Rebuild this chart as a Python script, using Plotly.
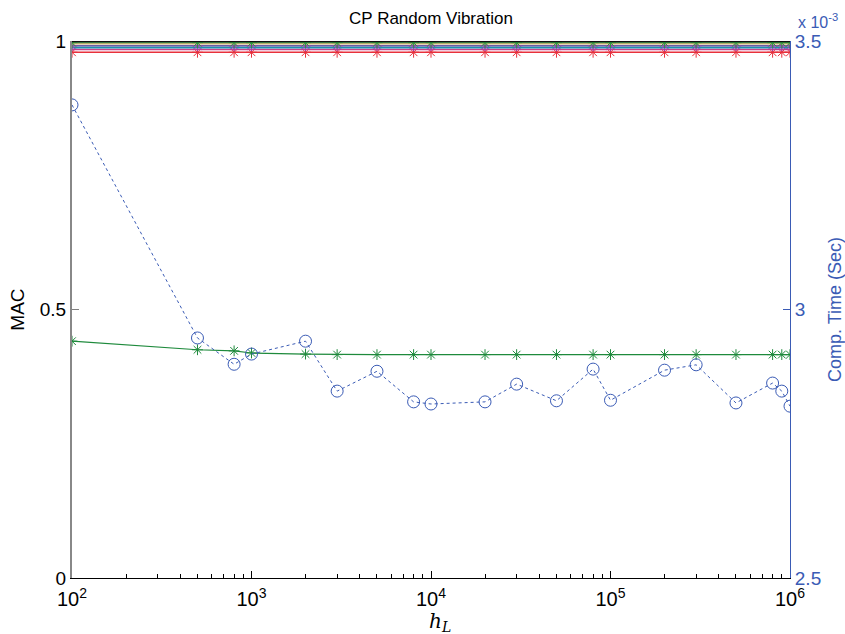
import plotly.graph_objects as go

h_L = [100, 500, 800, 1000, 2000, 3000, 5000, 8000, 10000, 20000, 30000,
       50000, 80000, 100000, 200000, 300000, 500000, 800000, 900000, 1000000]

n = len(h_L)
mac_black = [0.999] * n
mac_green_top = [0.997] * n
mac_yellow = [0.995] * n
mac_blue = [0.991] * n
mac_cyan = [0.988] * n
mac_magenta = [0.984] * n
mac_red = [0.979] * n

mac_low = [0.441, 0.425, 0.423, 0.419, 0.417, 0.416, 0.416, 0.416, 0.416, 0.416,
           0.416, 0.416, 0.416, 0.416, 0.416, 0.416, 0.416, 0.416, 0.416, 0.416]

comp_time = [3.381, 2.947, 2.898, 2.917, 2.941, 2.848, 2.885, 2.828, 2.824, 2.828,
             2.861, 2.830, 2.889, 2.831, 2.887, 2.897, 2.826, 2.863, 2.848, 2.820]
comp_time = [v * 1e-3 for v in comp_time]

xtick_vals = [100, 1000, 10000, 100000, 1000000]
xtick_text = ["10<sup>2</sup>", "10<sup>3</sup>", "10<sup>4</sup>", "10<sup>5</sup>", "10<sup>6</sup>"]
xminor_vals = [m * d for d in (100, 1000, 10000, 100000) for m in range(2, 10)]

FONT = "Liberation Sans, Arial, sans-serif"
BLUE = "#3a5bb5"

fig = go.Figure()

def mline(y, color, width=1.2, marker=None, mcolor=None):
    kw = dict(x=h_L, y=y, mode="lines", line=dict(color=color, width=width),
              showlegend=False, hoverinfo="skip")
    if marker:
        kw["mode"] = "lines+markers"
        kw["marker"] = dict(symbol=marker, size=9, color=mcolor or color,
                            line=dict(color=mcolor or color, width=1))
    fig.add_trace(go.Scatter(**kw))

mline(mac_red, "#e8303c", 1.5, "asterisk-open", "#e8303c")
mline(mac_magenta, "#c8408a", 1.5)
mline(mac_cyan, "#1e8fb0", 2)
mline(mac_blue, "#6a5aa8", 1.5, "asterisk-open", "#9a40b0")
mline(mac_yellow, "#c8b070", 1.5)
mline(mac_green_top, "#2a8a40", 1, "asterisk-open", "#2a9a40")
mline(mac_black, "#111111", 1.5)

fig.add_trace(go.Scatter(x=h_L, y=mac_low, mode="lines+markers",
                         line=dict(color="#1e8a3c", width=1.2),
                         marker=dict(symbol="asterisk-open", size=9, color="#1e8a3c",
                                     line=dict(color="#1e8a3c", width=1)),
                         showlegend=False, hoverinfo="skip"))

fig.add_trace(go.Scatter(x=h_L, y=comp_time, yaxis="y2", mode="lines+markers",
                         line=dict(color=BLUE, width=1, dash="dot"),
                         marker=dict(symbol="circle-open", size=12, color=BLUE,
                                     line=dict(color=BLUE, width=1)),
                         showlegend=False, hoverinfo="skip"))

fig.update_layout(
    width=845, height=634,
    margin=dict(l=72, r=55, t=41, b=56),
    paper_bgcolor="white", plot_bgcolor="white",
    font=dict(family=FONT, size=17, color="black"),
    title=dict(text="CP Random Vibration", x=0.5, xref="paper", y=0.972, yref="container",
               xanchor="center", yanchor="middle", font=dict(size=17, family=FONT)),
    xaxis=dict(type="log", range=[2, 6], tickmode="array", tickvals=xtick_vals, ticktext=xtick_text,
               ticks="inside", ticklen=7, tickcolor="black", showgrid=False, automargin=False,
               zeroline=False, showline=True, linecolor="black", linewidth=1,
               tickfont=dict(size=20), ticklabelstandoff=3,
               minor=dict(tickmode="array", tickvals=xminor_vals, ticks="inside", ticklen=4,
                          tickcolor="black", showgrid=False)),
    yaxis=dict(range=[0, 1], tickvals=[0, 0.5, 1], ticktext=["0", "0.5", "1"],
               ticks="inside", ticklen=7, tickcolor="#808080", showgrid=False, automargin=False,
               zeroline=False, showline=True, linecolor="#888888", linewidth=2,
               tickfont=dict(size=19),
               title=dict(text="MAC", font=dict(size=19), standoff=10)),
    yaxis2=dict(range=[2.5e-3, 3.5e-3], overlaying="y", side="right", anchor="x",
                tickvals=[2.5e-3, 3e-3, 3.5e-3], ticktext=["2.5", "3", "3.5"], automargin=False,
                ticks="inside", ticklen=7, tickcolor=BLUE, showgrid=False,
                zeroline=False, showline=True, linecolor=BLUE, linewidth=1,
                tickfont=dict(size=19, color=BLUE),
                title=dict(text="Comp. Time (Sec)", font=dict(size=18, color=BLUE), standoff=10)),
)

fig.add_annotation(text="x 10<sup>-3</sup>", xref="paper", yref="paper", x=1.0, y=1.0,
                   xanchor="left", yanchor="bottom", xshift=6, yshift=8, showarrow=False,
                   font=dict(size=16, color=BLUE, family=FONT))
fig.add_annotation(text="<i>h<sub>L</sub></i>", xref="paper", yref="paper", x=0.513, y=0,
                   xanchor="center", yanchor="top", yshift=-29, showarrow=False,
                   font=dict(size=20, family="DejaVu Serif, Liberation Serif, serif"))

fig.write_html("out.html")
